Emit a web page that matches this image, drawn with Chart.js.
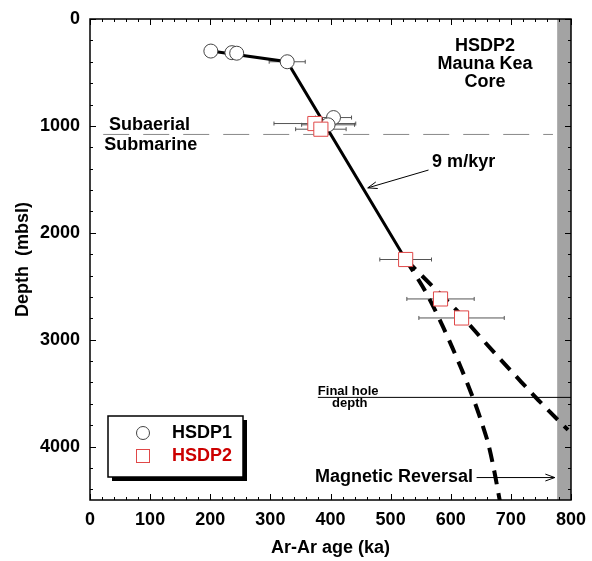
<!DOCTYPE html>
<html>
<head>
<meta charset="utf-8">
<script src="https://cdn.jsdelivr.net/npm/chart.js@4.4.1/dist/chart.umd.min.js"></script>
<style>
  html, body { margin: 0; background: #fff; }
</style>
</head>
<body>
<canvas id="chart" width="592" height="561"></canvas>
<script>
// HSDP1 samples (circles): age ka, depth mbsl, 2-sigma age error
const hsdp1Age   = [201, 236, 244, 328, 405, 396];
const hsdp1Depth = [300, 315, 320, 400, 922, 990];
const hsdp1Err   = [0, 0, 0, 30, 30, 44];

// HSDP2 samples (squares)
const hsdp2Age   = [374, 384, 525, 583, 618];
const hsdp2Depth = [978, 1031, 2250, 2619, 2797];
const hsdp2Err   = [68, 42, 43, 56, 71];

// 9 m/kyr fit and the two extrapolations below 2250 m
const fitAge   = [201, 328, 525];
const fitDepth = [300, 400, 2250];
const upperAge   = [525, 545, 575, 612, 650, 683, 717, 745, 778, 795];
const upperDepth = [2250, 2362, 2531, 2737, 2981, 3187, 3394, 3562, 3750, 3844];
const lowerAge   = [525, 558, 587, 617, 637, 650, 662, 672, 682];
const lowerDepth = [2250, 2550, 2878, 3263, 3544, 3750, 3966, 4219, 4520];

// reference lines
const shorelineDepth = 1080;
const shorelineAge = [22, 770];
const holeDepth = 3540;
const holeAge = [379, 800];
const reversalBand = [777, 800];

const xTicks = [0, 100, 200, 300, 400, 500, 600, 700, 800];
const yTicks = [0, 1000, 2000, 3000, 4000];

const FONT = "'Liberation Sans', Arial, sans-serif";
Chart.defaults.font.family = FONT;
Chart.defaults.color = '#000';

const pts = (xs, ys) => xs.map((v, i) => ({x: v, y: ys[i]}));

function text(ctx, s, x, y, align, size, color) {
  ctx.font = 'bold ' + size + 'px ' + FONT;
  ctx.fillStyle = color || '#000';
  ctx.textAlign = align;
  ctx.textBaseline = 'middle';
  ctx.fillText(s, x, y);
}

function arrow(ctx, x1, y1, x2, y2) {
  ctx.beginPath();
  ctx.moveTo(x1, y1);
  ctx.lineTo(x2, y2);
  const ang = Math.atan2(y2 - y1, x2 - x1);
  ctx.moveTo(x2 - 10 * Math.cos(ang - 0.35), y2 - 10 * Math.sin(ang - 0.35));
  ctx.lineTo(x2, y2);
  ctx.lineTo(x2 - 10 * Math.cos(ang + 0.35), y2 - 10 * Math.sin(ang + 0.35));
  ctx.stroke();
}

const extras = {
  id: 'extras',
  beforeDatasetsDraw(chart) {
    const {ctx, chartArea: a, scales: {x, y}} = chart;
    ctx.save();
    // magnetic reversal band
    const b0 = x.getPixelForValue(reversalBand[0]);
    ctx.fillStyle = '#a3a3a3';
    ctx.fillRect(b0, a.top, x.getPixelForValue(reversalBand[1]) - b0, a.bottom - a.top);
    // error bars
    ctx.strokeStyle = '#555';
    ctx.lineWidth = 1;
    const bars = (ages, depths, errs) => ages.forEach((v, i) => {
      if (!errs[i]) return;
      const l = x.getPixelForValue(v - errs[i]), r = x.getPixelForValue(v + errs[i]);
      const py = y.getPixelForValue(depths[i]);
      ctx.beginPath();
      ctx.moveTo(l, py); ctx.lineTo(r, py);
      ctx.moveTo(l, py - 2); ctx.lineTo(l, py + 2);
      ctx.moveTo(r, py - 2); ctx.lineTo(r, py + 2);
      ctx.stroke();
    });
    bars(hsdp1Age, hsdp1Depth, hsdp1Err);
    bars(hsdp2Age, hsdp2Depth, hsdp2Err);
    ctx.restore();
  },
  afterDraw(chart) {
    const {ctx, chartArea: a, scales: {x, y}} = chart;
    ctx.save();
    // inward ticks on all four sides
    ctx.strokeStyle = '#000';
    ctx.lineWidth = 1;
    ctx.beginPath();
    for (let v = 0; v <= 800; v += 20) {
      const px = Math.round(x.getPixelForValue(v)) + 0.5;
      const len = v % 100 === 0 ? 6 : 3;
      ctx.moveTo(px, a.bottom); ctx.lineTo(px, a.bottom - len);
      ctx.moveTo(px, a.top); ctx.lineTo(px, a.top + len);
    }
    for (let v = 0; v <= 4500; v += 200) {
      const py = Math.round(y.getPixelForValue(v)) + 0.5;
      const len = v % 1000 === 0 ? 6 : 3;
      ctx.moveTo(a.left, py); ctx.lineTo(a.left + len, py);
      ctx.moveTo(a.right, py); ctx.lineTo(a.right - len, py);
    }
    ctx.stroke();
    ctx.lineWidth = 1.5;
    ctx.strokeRect(a.left, a.top, a.right - a.left, a.bottom - a.top);

    // annotations
    const X = v => x.getPixelForValue(v), Y = v => y.getPixelForValue(v);
    text(ctx, 'HSDP2', X(657), Y(250), 'center', 18);
    text(ctx, 'Mauna Kea', X(657), Y(420), 'center', 18);
    text(ctx, 'Core', X(657), Y(590), 'center', 18);
    text(ctx, 'Subaerial', X(99), Y(990), 'center', 18);
    text(ctx, 'Submarine', X(101), Y(1175), 'center', 18);
    text(ctx, '9 m/kyr', X(569), Y(1338), 'left', 18);
    text(ctx, 'Final hole', X(379), Y(3480), 'left', 13);
    text(ctx, 'depth', X(432), Y(3600), 'center', 13);
    text(ctx, 'Magnetic Reversal', X(637), Y(4285), 'right', 18);
    ctx.strokeStyle = '#000';
    ctx.lineWidth = 1;
    arrow(ctx, X(563), Y(1413), X(462), Y(1580));
    arrow(ctx, X(643), Y(4290), X(773), Y(4290));

    // legend box with drop shadow
    const lx = a.left + 18, ly = a.top + 397, lw = 135, lh = 61;
    ctx.fillStyle = '#000';
    ctx.fillRect(lx + 4, ly + 4, lw, lh);
    ctx.fillStyle = '#fff';
    ctx.fillRect(lx, ly, lw, lh);
    ctx.lineWidth = 1.5;
    ctx.strokeRect(lx, ly, lw, lh);
    ctx.lineWidth = 1;
    ctx.strokeStyle = '#444';
    ctx.beginPath();
    ctx.arc(lx + 35, ly + 17, 6.5, 0, Math.PI * 2);
    ctx.stroke();
    ctx.strokeStyle = '#e04848';
    ctx.strokeRect(lx + 28.5, ly + 33.5, 13, 13);
    text(ctx, 'HSDP1', lx + 64, ly + 17, 'left', 18);
    text(ctx, 'HSDP2', lx + 64, ly + 40, 'left', 18, '#cc0000');
    ctx.restore();
  }
};

new Chart(document.getElementById('chart'), {
  type: 'scatter',
  data: {
    datasets: [
      {
        label: 'HSDP2',
        data: pts(hsdp2Age, hsdp2Depth),
        pointStyle: 'rect',
        pointRadius: 10,
        borderColor: '#e04848',
        backgroundColor: '#fff',
        borderWidth: 1
      },
      {
        label: 'HSDP1',
        data: pts(hsdp1Age, hsdp1Depth),
        pointStyle: 'circle',
        pointRadius: 7,
        borderColor: '#444',
        backgroundColor: '#fff',
        borderWidth: 1
      },
      {
        data: pts(fitAge, fitDepth),
        showLine: true, pointRadius: 0,
        borderColor: '#000', borderWidth: 3
      },
      {
        data: pts(upperAge, upperDepth),
        showLine: true, pointRadius: 0,
        borderColor: '#000', borderWidth: 4, borderDash: [14, 9]
      },
      {
        data: pts(lowerAge, lowerDepth),
        showLine: true, pointRadius: 0, tension: 0.3,
        borderColor: '#000', borderWidth: 4, borderDash: [14, 9]
      },
      {
        data: pts(shorelineAge, [shorelineDepth, shorelineDepth]),
        showLine: true, pointRadius: 0,
        borderColor: '#888', borderWidth: 1, borderDash: [26, 14]
      },
      {
        data: pts(holeAge, [holeDepth, holeDepth]),
        showLine: true, pointRadius: 0,
        borderColor: '#000', borderWidth: 1
      }
    ]
  },
  options: {
    responsive: false,
    animation: false,
    layout: { padding: { top: 19, right: 21, left: 0, bottom: 0 } },
    plugins: { legend: { display: false }, tooltip: { enabled: false } },
    scales: {
      x: {
        type: 'linear', min: 0, max: 800,
        afterFit: s => { s.height = 61; s.paddingLeft = 0; s.paddingRight = 0; },
        afterBuildTicks: s => { s.ticks = xTicks.map(v => ({value: v})); },
        grid: { display: false, drawTicks: false },
        border: { display: false },
        ticks: { font: { size: 18, weight: 'bold' }, padding: 9, maxRotation: 0, callback: v => String(v) },
        title: { display: true, text: 'Ar-Ar age (ka)', font: { size: 18, weight: 'bold' }, padding: { top: 0, bottom: 2 } }
      },
      y: {
        type: 'linear', min: 0, max: 4500, reverse: true,
        afterFit: s => { s.width = 90; s.paddingTop = 0; s.paddingBottom = 0; },
        afterBuildTicks: s => { s.ticks = yTicks.map(v => ({value: v})); },
        grid: { display: false, drawTicks: false },
        border: { display: false },
        ticks: { font: { size: 18, weight: 'bold' }, padding: 10, callback: v => String(v) },
        title: { display: true, text: 'Depth  (mbsl)', font: { size: 18, weight: 'bold' }, padding: { top: 12, bottom: 0 } }
      }
    }
  },
  plugins: [extras]
});
</script>
</body>
</html>
